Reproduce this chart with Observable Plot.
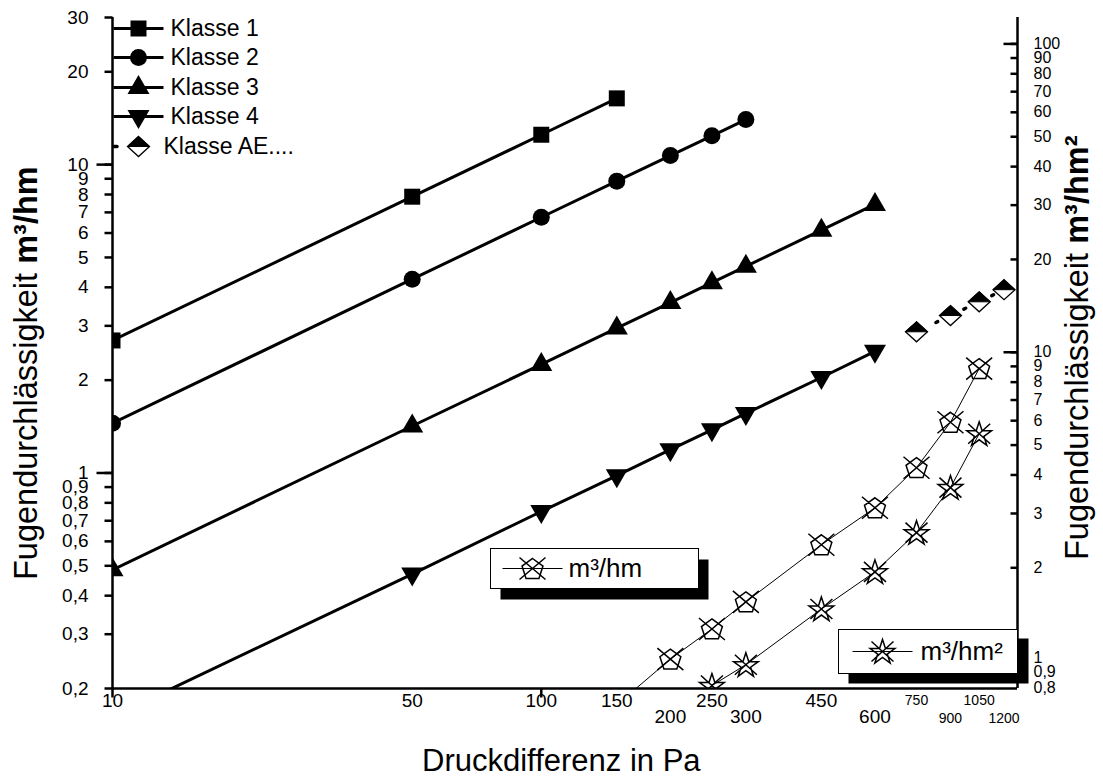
<!DOCTYPE html>
<html><head><meta charset="utf-8">
<script src="https://cdn.jsdelivr.net/npm/d3@7"></script>
<script src="https://cdn.jsdelivr.net/npm/@observablehq/plot@0.6"></script>
<style>body{margin:0;background:#fff;} svg{display:block;} svg text{font-family:"Liberation Sans", Arial, sans-serif !important; font-variant-numeric:normal !important;}</style>
</head><body><div id="chart"></div>
<script>
// ---- data (Pa -> m³/hm, left axis) ----
const pressures1 = [10, 50, 100, 150];
const klasse1 = [2.69, 7.87, 12.5, 16.4];
const pressures2 = [10, 50, 100, 150, 200, 250, 300];
const klasse2 = [1.45, 4.25, 6.75, 8.84, 10.7, 12.4, 14.0];
const pressures34 = [10, 50, 100, 150, 200, 250, 300, 450, 600];
const klasse3 = [0.485, 1.42, 2.25, 2.95, 3.57, 4.14, 4.68, 6.13, 7.43];
const klasse4 = [0.162, 0.47, 0.75, 0.98, 1.19, 1.38, 1.56, 2.04, 2.48];
const pressuresAE = [750, 900, 1050, 1200];
const klasseAE = [2.87, 3.24, 3.59, 3.93];
// measured series
const pressuresM = [150, 200, 250, 300, 450, 600, 750, 900, 1050];
const messungHm = [0.177, 0.249, 0.312, 0.382, 0.585, 0.771, 1.04, 1.46, 2.18];      // m³/hm (left axis)
const pressuresM2 = [250, 300, 450, 600, 750, 900, 1050];
const messungHm2 = [0.83, 0.97, 1.47, 1.94, 2.6, 3.64, 5.44];                        // m³/hm² (right axis)
const RATIO = 4.06; // right axis value / left axis value

// ---- axis ticks ----
const leftTicks = [30, 20, 10, 9, 8, 7, 6, 5, 4, 3, 2, 1, 0.9, 0.8, 0.7, 0.6, 0.5, 0.4, 0.3, 0.2];
const leftMajor = [10, 1];
const rightTicks = [100, 90, 80, 70, 60, 50, 40, 30, 20, 10, 9, 8, 7, 6, 5, 4, 3, 2];
const rightMajor = [100, 10];
const rightLowLabels = [1, 0.9, 0.8];
const xTopBig = [10, 50, 100, 150, 250, 450];
const xTopSmall = [750, 1050];
const xBotBig = [200, 300, 600];
const xBotSmall = [900, 1200];
const xTickMarks = [10, 100];
const legendNames = ["Klasse 1", "Klasse 2", "Klasse 3", "Klasse 4", "Klasse AE...."];

const FONT = "Liberation Sans, Arial, sans-serif";
const fmt = v => String(v).replace(".", ",");
const pts = (xs, ys) => xs.map((x, i) => ({x, y: ys[i]}));
const pts2 = (xs, ys) => xs.map((x, i) => ({x, y: ys[i] / RATIO}));

// ---- symbols ----
const poly = (p) => ({draw(c) { c.moveTo(p[0][0], p[0][1]); for (let i = 1; i < p.length; i++) c.lineTo(p[i][0], p[i][1]); c.closePath(); }});
const squareSym = poly([[-8,-8],[8,-8],[8,8],[-8,8]]);
const triUp = poly([[0,-12.5],[11,6.5],[-11,6.5]]);
const triDown = poly([[0,12.5],[11,-6.5],[-11,-6.5]]);
const diamondSym = poly([[0,-10],[11,0],[0,10],[-11,0]]);
const diamondTop = poly([[-11,0],[0,-10],[11,0]]);
const hline = (h) => ({draw(c) { c.moveTo(-h, 0); c.lineTo(h, 0); }});
const tickH = (len) => ({draw(c) { c.moveTo(-len, 0); c.lineTo(0, 0); }});
const tickV = (len) => ({draw(c) { c.moveTo(0, 0); c.lineTo(0, len); }});
const pentaX = {draw(c) {
  const r = 11;
  for (let k = 0; k < 5; k++) {
    const a = -Math.PI / 2 + k * 2 * Math.PI / 5;
    const px = r * Math.cos(a), py = r * Math.sin(a) + 1;
    if (k === 0) c.moveTo(px, py); else c.lineTo(px, py);
  }
  c.closePath();
  c.moveTo(-13, -11); c.lineTo(13, 11);
  c.moveTo(13, -11); c.lineTo(-13, 11);
}};
const starX = {draw(c) {
  const R = 13, r = 5;
  for (let k = 0; k < 10; k++) {
    const a = -Math.PI / 2 + k * Math.PI / 5;
    const rr = k % 2 ? r : R;
    const px = rr * Math.cos(a), py = rr * Math.sin(a) + 1;
    if (k === 0) c.moveTo(px, py); else c.lineTo(px, py);
  }
  c.closePath();
  c.moveTo(-11, -10); c.lineTo(11, 10);
  c.moveTo(11, -10); c.lineTo(-11, 10);
}};

const k1 = pts(pressures1, klasse1), k2 = pts(pressures2, klasse2);
const k3 = pts(pressures34, klasse3), k4 = pts(pressures34, klasse4);
const ae = pts(pressuresAE, klasseAE);
const mHm = pts(pressuresM, messungHm), mHm2 = pts2(pressuresM2, messungHm2);

const classSeries = [[k1, squareSym, null], [k2, "circle", 8.5], [k3, triUp, null], [k4, triDown, null]];
const legendSyms = [squareSym, "circle", triUp, triDown];
const rowY = [11, 40, 70, 99, 129]; // legend row offsets from plot top
const tl = {frameAnchor: "top-left"};
const txt = {fontFamily: FONT, fontVariant: "normal"};

const marks = [];
// class lines and markers
for (const [d, s, r] of classSeries) {
  marks.push(Plot.line(d, {x: "x", y: "y", stroke: "black", strokeWidth: 3, clip: true}));
  marks.push(Plot.dot(d, {x: "x", y: "y", symbol: s, r: r ?? 5, fill: "black", stroke: "none", clip: true}));
}
// Klasse AE
marks.push(Plot.line(ae, {x: "x", y: "y", stroke: "black", strokeWidth: 3.5, strokeDasharray: "2,29", strokeDashoffset: 9.5, strokeLinecap: "round", clip: true}));
marks.push(Plot.dot(ae, {x: "x", y: "y", symbol: diamondSym, fill: "white", stroke: "black", strokeWidth: 1.3, clip: true}));
marks.push(Plot.dot(ae, {x: "x", y: "y", symbol: diamondTop, fill: "black", stroke: "black", strokeWidth: 1, clip: true}));
// measured series
marks.push(Plot.line(mHm, {x: "x", y: "y", stroke: "black", strokeWidth: 1, clip: true}));
marks.push(Plot.dot(mHm, {x: "x", y: "y", symbol: pentaX, fill: "none", stroke: "black", strokeWidth: 1.5, clip: true}));
marks.push(Plot.line(mHm2, {x: "x", y: "y", stroke: "black", strokeWidth: 1, clip: true}));
marks.push(Plot.dot(mHm2, {x: "x", y: "y", symbol: starX, fill: "none", stroke: "black", strokeWidth: 1.5, clip: true}));

// frame lines
marks.push(Plot.ruleX([10], {strokeWidth: 2.5}));
marks.push(Plot.ruleX([1290], {strokeWidth: 2.5}));
marks.push(Plot.ruleY([0.2], {strokeWidth: 2.5}));

// left axis: ticks + labels
marks.push(Plot.dot(leftTicks, {y: d => d, frameAnchor: "left", symbol: tickH(8), stroke: "black", strokeWidth: 2.5}));
marks.push(Plot.dot(leftMajor, {y: d => d, frameAnchor: "left", symbol: tickH(16), stroke: "black", strokeWidth: 2.5}));
marks.push(Plot.text(leftTicks, {...txt, y: d => d, text: fmt, frameAnchor: "left", dx: -24, textAnchor: "end", lineAnchor: "middle", fontSize: 19}));
// right axis: inward ticks + labels
marks.push(Plot.dot(rightTicks, {y: d => d / RATIO, frameAnchor: "right", symbol: tickH(7), stroke: "black", strokeWidth: 2.5}));
marks.push(Plot.dot(rightMajor, {y: d => d / RATIO, frameAnchor: "right", symbol: tickH(14), stroke: "black", strokeWidth: 2.5}));
marks.push(Plot.text(rightTicks, {...txt, y: d => d / RATIO, text: fmt, frameAnchor: "right", dx: 16, textAnchor: "start", lineAnchor: "middle", fontSize: 16}));
marks.push(Plot.text(rightLowLabels, {...txt, y: d => d / RATIO, text: fmt, frameAnchor: "right", dx: 16, dy: -3, textAnchor: "start", lineAnchor: "middle", fontSize: 16}));
// x axis: ticks + two rows of labels
marks.push(Plot.dot(xTickMarks, {x: d => d, frameAnchor: "bottom", symbol: tickV(9), stroke: "black", strokeWidth: 2.5}));
marks.push(Plot.text(xTopBig, {...txt, x: d => d, text: fmt, frameAnchor: "bottom", dy: 5, lineAnchor: "top", fontSize: 19}));
marks.push(Plot.text(xTopSmall, {...txt, x: d => d, text: fmt, frameAnchor: "bottom", dy: 7, lineAnchor: "top", fontSize: 14}));
marks.push(Plot.text(xBotBig, {...txt, x: d => d, text: fmt, frameAnchor: "bottom", dy: 21, lineAnchor: "top", fontSize: 19}));
marks.push(Plot.text(xBotSmall, {...txt, x: d => d, text: fmt, frameAnchor: "bottom", dy: 25, lineAnchor: "top", fontSize: 14}));

// top-left legend
legendNames.forEach((name, i) => {
  const dy = rowY[i];
  if (i < 4) {
    marks.push(Plot.dot([0], {...tl, dx: 26, dy, symbol: hline(25), stroke: "black", strokeWidth: 3, fill: "none"}));
    marks.push(Plot.dot([0], {...tl, dx: 26, dy, symbol: legendSyms[i], r: 8.5, fill: "black", stroke: "none"}));
    marks.push(Plot.text([name], {...txt, ...tl, dx: 58, dy, text: d => d, textAnchor: "start", lineAnchor: "middle", fontSize: 23}));
  } else {
    marks.push(Plot.dot([0], {...tl, dx: 3, dy, symbol: hline(1.5), stroke: "black", strokeWidth: 3.5, strokeLinecap: "round", fill: "none"}));
    marks.push(Plot.dot([0], {...tl, dx: 26, dy, symbol: diamondSym, fill: "white", stroke: "black", strokeWidth: 1.3}));
    marks.push(Plot.dot([0], {...tl, dx: 26, dy, symbol: diamondTop, fill: "black", stroke: "black", strokeWidth: 1}));
    marks.push(Plot.text([name], {...txt, ...tl, dx: 51, dy, text: d => d, textAnchor: "start", lineAnchor: "middle", fontSize: 23}));
  }
});

// boxed legends with shadows
marks.push(Plot.frame({fill: "black", stroke: "none", insetLeft: 388, insetTop: 542, insetRight: 309, insetBottom: 89}));
marks.push(Plot.frame({fill: "white", stroke: "black", strokeWidth: 1, insetLeft: 378, insetTop: 531, insetRight: 319, insetBottom: 100}));
marks.push(Plot.dot([0], {...tl, dx: 420, dy: 551, symbol: hline(30), stroke: "black", strokeWidth: 1, fill: "none"}));
marks.push(Plot.dot([0], {...tl, dx: 420, dy: 551, symbol: pentaX, stroke: "black", strokeWidth: 1.5, fill: "none"}));
marks.push(Plot.text(["m³/hm"], {...txt, ...tl, dx: 456, dy: 551, text: d => d, textAnchor: "start", lineAnchor: "middle", fontSize: 26}));
marks.push(Plot.frame({fill: "black", stroke: "none", insetLeft: 736, insetTop: 621, insetRight: -11, insetBottom: 5}));
marks.push(Plot.frame({fill: "white", stroke: "black", strokeWidth: 1, insetLeft: 726, insetTop: 612, insetRight: 0, insetBottom: 15}));
marks.push(Plot.dot([0], {...tl, dx: 770, dy: 634, symbol: hline(30), stroke: "black", strokeWidth: 1, fill: "none"}));
marks.push(Plot.dot([0], {...tl, dx: 770, dy: 634, symbol: starX, stroke: "black", strokeWidth: 1.5, fill: "none"}));
marks.push(Plot.text(["m³/hm²"], {...txt, ...tl, dx: 808, dy: 634, text: d => d, textAnchor: "start", lineAnchor: "middle", fontSize: 26}));

const plot = Plot.plot({
  width: 1103, height: 780,
  marginLeft: 112, marginRight: 86, marginTop: 17, marginBottom: 92,
  style: {fontFamily: FONT, background: "white", color: "black", overflow: "visible"},
  x: {type: "log", domain: [10, 1290], axis: null, label: null},
  y: {type: "log", domain: [0.2, 30], axis: null, label: null},
  marks
});

// axis titles
const svg = d3.select(plot);
function title(x, y, rot, parts, size) {
  const t = svg.append("text")
    .attr("transform", `translate(${x},${y})` + (rot ? ` rotate(${rot})` : ""))
    .attr("text-anchor", "start").attr("font-size", size).attr("font-family", FONT).attr("fill", "black");
  for (const [s, bold] of parts) t.append("tspan").attr("font-weight", bold ? "bold" : "normal").text(s);
}
title(37, 580, -90, [["Fugendurchlässigkeit ", false], ["m³/hm", true]], 32.5);
title(1088, 560, -90, [["Fugendurchlässigkeit ", false], ["m³/hm²", true]], 32.5);
title(422, 771, 0, [["Druckdifferenz in Pa", false]], 31);

document.getElementById("chart").appendChild(plot);
</script>
</body></html>
